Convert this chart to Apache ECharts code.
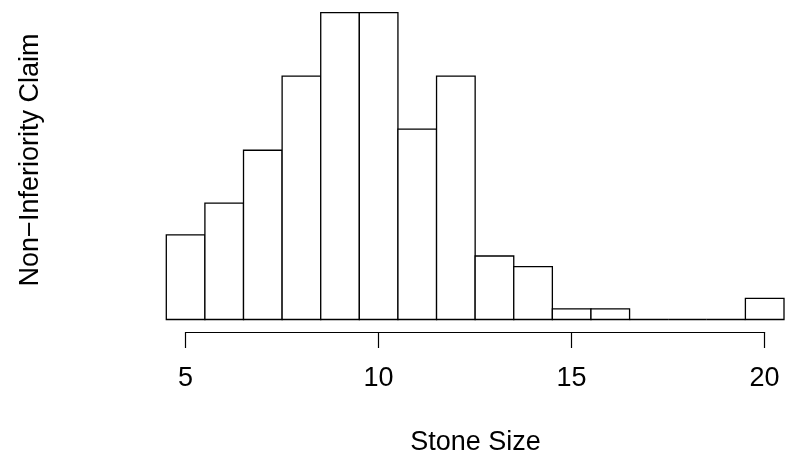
<!DOCTYPE html>
<html>
<head>
<meta charset="utf-8">
<script src="https://cdn.jsdelivr.net/npm/echarts@6/dist/echarts.min.js"></script>
<style>
html,body{margin:0;padding:0;background:#fff;}
#chart{width:786px;height:457px;}
</style>
</head>
<body>
<div id="chart"></div>
<script>
// Histogram data: bin centers (width 1) and counts
const binCenters = [5, 6, 7, 8, 9, 10, 11, 12, 13, 14, 15, 16, 17, 18, 19, 20];
const counts     = [8, 11, 16, 23, 29, 29, 18, 23, 6, 5, 1, 1, 0, 0, 0, 2];
const tickValues = [5, 10, 15, 20];
const xTitle = 'Stone Size';
const yTitle = 'Non\u2212Inferiority Claim';

const FONT = '"Liberation Sans", Arial, Helvetica, sans-serif';
const chart = echarts.init(document.getElementById('chart'), null, {renderer: 'canvas'});

const barData = binCenters.map((c, i) => [c, counts[i]]);

chart.setOption({
  animation: false,
  backgroundColor: '#ffffff',
  grid: [
    {left: 166.3, right: 2, top: 12.7, bottom: 457 - 319.5},
    {left: 185.6, right: 786 - 764.6, top: 331, height: 1}
  ],
  xAxis: [
    {gridIndex: 0, type: 'value', min: 4.5, max: 20.5, show: false},
    {gridIndex: 1, type: 'value', min: 5, max: 20, interval: 5, position: 'bottom',
     axisLine: {show: true, onZero: false, lineStyle: {color: '#000', width: 1.2}},
     axisTick: {show: true, length: 16, lineStyle: {color: '#000', width: 1.2}},
     axisLabel: {show: true, margin: 33, color: '#000', fontSize: 27, fontFamily: FONT,
                 customValues: tickValues},
     splitLine: {show: false}}
  ],
  yAxis: [
    {gridIndex: 0, type: 'value', min: 0, max: 29, show: false},
    {gridIndex: 1, type: 'value', min: 0, max: 1, show: false}
  ],
  series: [{
    type: 'custom',
    xAxisIndex: 0,
    yAxisIndex: 0,
    data: barData,
    renderItem: function (params, api) {
      const x = api.value(0), v = api.value(1);
      const p1 = api.coord([x - 0.5, v]);
      const p2 = api.coord([x + 0.5, 0]);
      return {
        type: 'rect',
        shape: {x: p1[0], y: p1[1], width: p2[0] - p1[0], height: p2[1] - p1[1]},
        style: {fill: '#ffffff', stroke: '#000000', lineWidth: 1.3}
      };
    }
  }],
  graphic: [
    {type: 'text', left: null, x: 475.5, y: 443,
     style: {text: xTitle, fill: '#000', font: '27px ' + FONT, textAlign: 'center', textVerticalAlign: 'middle'}},
    {type: 'text', x: 31, y: 160, rotation: Math.PI / 2,
     style: {text: yTitle, fill: '#000', font: '27px ' + FONT, textAlign: 'center', textVerticalAlign: 'middle'}}
  ]
});
</script>
</body>
</html>
